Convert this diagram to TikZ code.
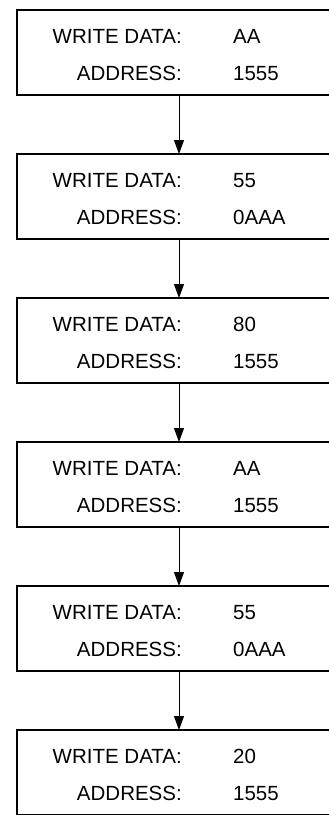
\documentclass[tikz,border=0pt]{standalone}
\usepackage{fontspec}
\setmainfont{Liberation Sans}
\usetikzlibrary{positioning,calc,arrows.meta}
\tikzset{
% Boxes of the write sequence, their two text columns, and the flow arrows
cmd box/.style={rectangle,draw,line width=1.5pt,outer sep=0pt,minimum width=324pt,minimum height=85pt,inner sep=0pt},
key text/.style={anchor=base east,inner sep=0pt},
val text/.style={anchor=base west,inner sep=0pt},
flow arrow/.style={-{Triangle[length=14pt,width=10pt]},line width=1pt}
}
\begin{document}
\begin{tikzpicture}[x=1pt,y=1pt,font=\fontsize{20.5}{24}\selectfont]
\path[use as bounding box,clip] (0,0) rectangle (329,-815);
\node[cmd box] (cmd1) at (179,-52.5) {};
\node[cmd box, below=59pt of cmd1] (cmd2) {};
\node[cmd box, below=59pt of cmd2] (cmd3) {};
\node[cmd box, below=59pt of cmd3] (cmd4) {};
\node[cmd box, below=59pt of cmd4] (cmd5) {};
\node[cmd box, below=59pt of cmd5] (cmd6) {};
% text of each box
\node[key text] (key1) at ($(cmd1.north west)+(165,-33)$) {WRITE DATA:};
\node[val text] (dat1) at ($(cmd1.north west)+(216,-33)$) {AA};
\node[key text] (adr1) at ($(cmd1.north west)+(165,-70)$) {ADDRESS:};
\node[val text] (loc1) at ($(cmd1.north west)+(216,-70)$) {1555};
\node[key text] (key2) at ($(cmd2.north west)+(165,-33)$) {WRITE DATA:};
\node[val text] (dat2) at ($(cmd2.north west)+(216,-33)$) {55};
\node[key text] (adr2) at ($(cmd2.north west)+(165,-70)$) {ADDRESS:};
\node[val text] (loc2) at ($(cmd2.north west)+(216,-70)$) {0AAA};
\node[key text] (key3) at ($(cmd3.north west)+(165,-33)$) {WRITE DATA:};
\node[val text] (dat3) at ($(cmd3.north west)+(216,-33)$) {80};
\node[key text] (adr3) at ($(cmd3.north west)+(165,-70)$) {ADDRESS:};
\node[val text] (loc3) at ($(cmd3.north west)+(216,-70)$) {1555};
\node[key text] (key4) at ($(cmd4.north west)+(165,-33)$) {WRITE DATA:};
\node[val text] (dat4) at ($(cmd4.north west)+(216,-33)$) {AA};
\node[key text] (adr4) at ($(cmd4.north west)+(165,-70)$) {ADDRESS:};
\node[val text] (loc4) at ($(cmd4.north west)+(216,-70)$) {1555};
\node[key text] (key5) at ($(cmd5.north west)+(165,-33)$) {WRITE DATA:};
\node[val text] (dat5) at ($(cmd5.north west)+(216,-33)$) {55};
\node[key text] (adr5) at ($(cmd5.north west)+(165,-70)$) {ADDRESS:};
\node[val text] (loc5) at ($(cmd5.north west)+(216,-70)$) {0AAA};
\node[key text] (key6) at ($(cmd6.north west)+(165,-33)$) {WRITE DATA:};
\node[val text] (dat6) at ($(cmd6.north west)+(216,-33)$) {20};
\node[key text] (adr6) at ($(cmd6.north west)+(165,-70)$) {ADDRESS:};
\node[val text] (loc6) at ($(cmd6.north west)+(216,-70)$) {1555};
% flow
\draw[flow arrow] (cmd1) -- (cmd2);
\draw[flow arrow] (cmd2) -- (cmd3);
\draw[flow arrow] (cmd3) -- (cmd4);
\draw[flow arrow] (cmd4) -- (cmd5);
\draw[flow arrow] (cmd5) -- (cmd6);
\end{tikzpicture}
\end{document}
